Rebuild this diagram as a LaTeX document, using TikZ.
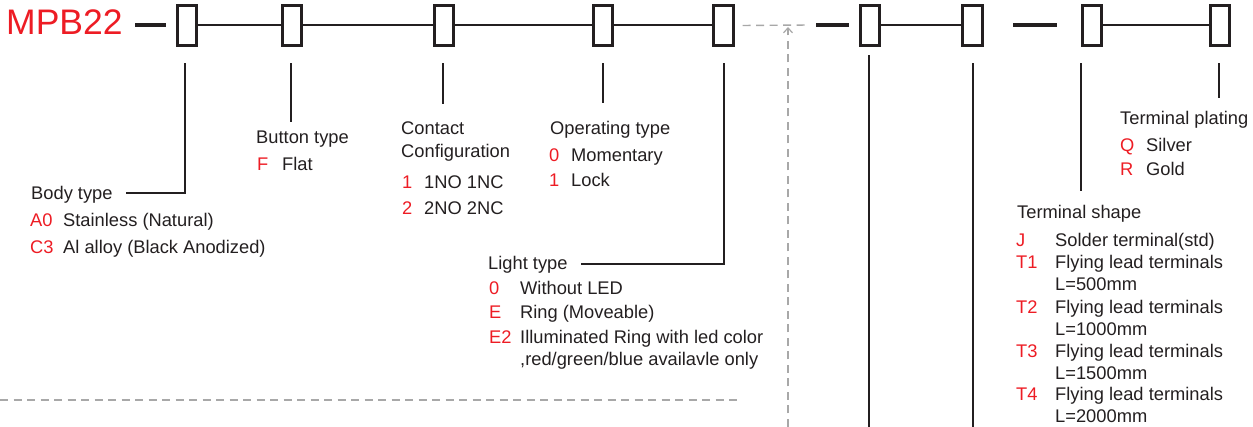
\documentclass[tikz,border=0pt]{standalone}
\usepackage{fontspec}
\setmainfont{Liberation Sans}
\usepackage{tikz}
\usetikzlibrary{arrows.meta,calc}
\definecolor{codered}{RGB}{237,28,36}
\definecolor{ink}{RGB}{35,31,32}
\definecolor{guidegray}{RGB}{168,168,168}
\tikzset{
  slot/.style={draw=ink,line width=2.6pt,minimum width=19.5pt,minimum height=40.5pt,inner sep=0pt},
  wire/.style={draw=ink,line width=2pt},
  lead/.style={draw=ink,line width=2pt},
  bar/.style={draw=ink,line width=4.5pt},
  guide/.style={draw=guidegray,line width=1.4pt,dash pattern=on 8pt off 5.5pt},
  txt/.style={text=ink,anchor=base west,inner sep=0pt,yshift=-1.5pt,font=\fontsize{18.3}{22}\selectfont},
  code/.style={txt,text=codered},
}
\begin{document}
\begin{tikzpicture}[x=1pt,y=-1pt]
\useasboundingbox (0,0) rectangle (1253,427);

% title and the code slots
\node[code,yshift=1.5pt,font=\fontsize{35.5}{41}\selectfont] (title) at (6,35) {MPB22};
\foreach \n/\x in {1/187,2/292,3/444,4/603,5/723.5,6/870,7/972.5,8/1092,9/1220}
  \node[slot] (b\n) at (\x,25.5) {};
\draw[bar] (135,25) -- (166,25);
\draw[bar] (816,25) -- (849,25);
\draw[bar] (1013,25) -- (1057,25);
\foreach \a/\b in {1/2,2/3,3/4,4/5,6/7,8/9}
  \draw[wire] (b\a.east) -- (b\b.west);

% dashed guides
\coordinate (guideend) at (810,25);
\coordinate (guidefoot) at (788,427);
\coordinate (guidetip) at (788,27);
\coordinate (cutleft) at (0,400);
\coordinate (cutright) at (740,400);
\draw[guide] ($(b5.east)+(8,0)$) -- (guideend);
\draw[guide,-{Straight Barb[length=5pt,width=9pt,line width=1.2pt]}] (guidefoot) -- (guidetip);
\draw[guide] (cutleft) -- (cutright);

% Body type
\node[txt] (bodyhd) at (31,198) {Body type};
\node[code] (bodya) at (30,225) {A0};
\node[txt] (bodyat) at (63,225) {Stainless (Natural)};
\node[code] (bodyc) at (30,252) {C3};
\node[txt] (bodyct) at (63,252) {Al alloy (Black Anodized)};

% Button type
\node[txt] (btnhd) at (256,142) {Button type};
\node[code] (btnf) at (257,169) {F};
\node[txt] (btnft) at (282,169) {Flat};

% Contact configuration
\node[txt] (conhd) at (401,133) {Contact};
\node[txt] (conhdb) at (401,156) {Configuration};
\node[code] (cona) at (402,187) {1};
\node[txt] (conat) at (424,187) {1NO 1NC};
\node[code] (conb) at (402,213) {2};
\node[txt] (conbt) at (424,213) {2NO 2NC};

% Operating type
\node[txt] (ophd) at (550,133) {Operating type};
\node[code] (opa) at (549,160) {0};
\node[txt] (opat) at (571,160) {Momentary};
\node[code] (opb) at (549,185) {1};
\node[txt] (opbt) at (571,185) {Lock};

% Light type
\node[txt] (lthd) at (488,268) {Light type};
\node[code] (lta) at (489,293) {0};
\node[txt] (ltat) at (520,293) {Without LED};
\node[code] (ltb) at (489,317) {E};
\node[txt] (ltbt) at (520,317) {Ring (Moveable)};
\node[code] (ltc) at (489,342) {E2};
\node[txt] (ltct) at (520,342) {Illuminated Ring with led color};
\node[txt] (ltcu) at (520,364) {,red/green/blue availavle only};

% Terminal plating
\node[txt] (plhd) at (1120,123) {Terminal plating};
\node[code] (plq) at (1120,150) {Q};
\node[txt] (plqt) at (1146,150) {Silver};
\node[code] (plr) at (1120,174) {R};
\node[txt] (plrt) at (1146,174) {Gold};

% Terminal shape
\node[txt] (shhd) at (1017,217) {Terminal shape};
\node[code] (shj) at (1016,245) {J};
\node[txt] (shjt) at (1055,245) {Solder terminal(std)};
\foreach \k/\y/\l in {1/267/500,2/312/1000,3/356/1500,4/399/2000}{
  \node[code] (sht\k) at (1016,\y) {T\k};
  \node[txt] (sht\k t) at (1055,\y) {Flying lead terminals};
  \node[txt] (sht\k l) at (1055,\y+22) {L=\l mm};
}

% leaders
\coordinate (foot6) at (869,427);
\coordinate (foot7) at (973,427);
\draw[lead] ($(b1.south)+(-2,16)$) |- ($(bodyhd.east)+(13,-1.5)$);
\draw[lead] ($(b2.south)+(-1,16)$) -- ($(btnhd.north -| b2.south)+(-1,-9)$);
\draw[lead] ($(b3.south)+(-1,16)$) -- ($(conhd.north -| b3.south)+(-1,-18)$);
\draw[lead] ($(b4.south)+(0,16)$) -- ($(ophd.north -| b4.south)+(0,-18)$);
\draw[lead] ($(b5.south)+(0,16)$) |- ($(lthd.east)+(13,-1)$);
\draw[lead] ($(b6.south)+(-1,8)$) -- (foot6);
\draw[lead] ($(b7.south)+(0.5,16)$) -- (foot7);
\draw[lead] ($(b8.south west)+(0,16)$) -- ($(shhd.north -| b8.south west)+(0,-14)$);
\draw[lead] ($(b9.south)+(-1,16)$) -- ($(plhd.north -| b9.south)+(-1,-13)$);
\end{tikzpicture}
\end{document}
